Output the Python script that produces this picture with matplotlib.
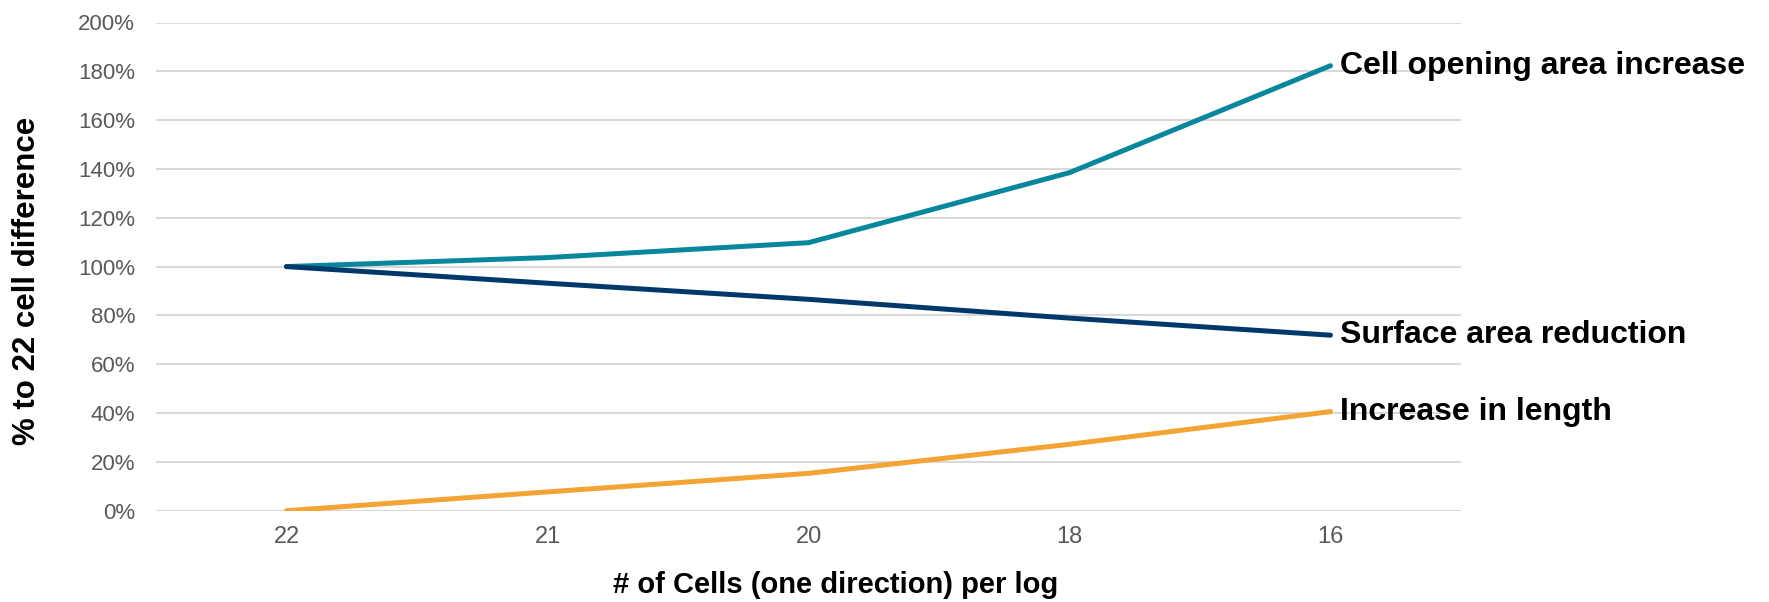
import matplotlib
matplotlib.use("Agg")
import matplotlib.pyplot as plt
from matplotlib.ticker import PercentFormatter

plt.rcParams['font.family'] = ['Liberation Sans', 'DejaVu Sans']

# cell counts per log (one direction) and change relative to the 22-cell case
cells = ['22', '21', '20', '18', '16']
opening_area = [1.00, 1.037, 1.098, 1.385, 1.823]
surface_area = [1.00, 0.932, 0.866, 0.789, 0.719]
length_increase = [0.00, 0.077, 0.153, 0.272, 0.406]

series_names = ['Cell opening area increase', 'Surface area reduction', 'Increase in length']
series_colors = ['#08869B', '#00386B', '#F4A335']

W, H = 1769, 602
fig = plt.figure(figsize=(W / 100, H / 100), dpi=100)
ax = fig.add_axes([156 / W, 1 - 510.7 / H, 1305 / W, (510.7 - 22.5) / H])

x = list(range(len(cells)))
for vals, name, col in zip([opening_area, surface_area, length_increase], series_names, series_colors):
    ax.plot(x, vals, color=col, lw=3.6, solid_capstyle='round', solid_joinstyle='round', zorder=3)
    ax.annotate(name, xy=(x[-1], vals[-1]), xytext=(7, 0), textcoords='offset points',
                ha='left', va='center', fontsize=23, fontweight='bold', color='black',
                annotation_clip=False)

ax.set_xlim(-0.5, len(cells) - 0.5)
ax.set_ylim(0, 2.0)
ax.set_yticks([i / 10 for i in range(0, 21, 2)])
ax.yaxis.set_major_formatter(PercentFormatter(1.0, decimals=0))
ax.set_xticks(x)
ax.set_xticklabels(cells)

ax.grid(axis='y', color='#D9D9D9', lw=1.5, zorder=0)
ax.set_axisbelow(True)
for s in ax.spines.values():
    s.set_visible(False)
ax.tick_params(axis='both', length=0, labelcolor='#595959')
ax.tick_params(axis='y', pad=15, labelsize=16)
ax.tick_params(axis='x', pad=11, labelsize=17)

fig.text(27 / W, 1 - 281 / H, '% to 22 cell difference', rotation=90, ha='center', va='center',
         fontsize=22.5, fontweight='bold')
fig.text(836 / W, 1 - 585 / H, '# of Cells (one direction) per log', ha='center', va='center',
         fontsize=21, fontweight='bold')

fig.savefig('out.png', dpi=100)
